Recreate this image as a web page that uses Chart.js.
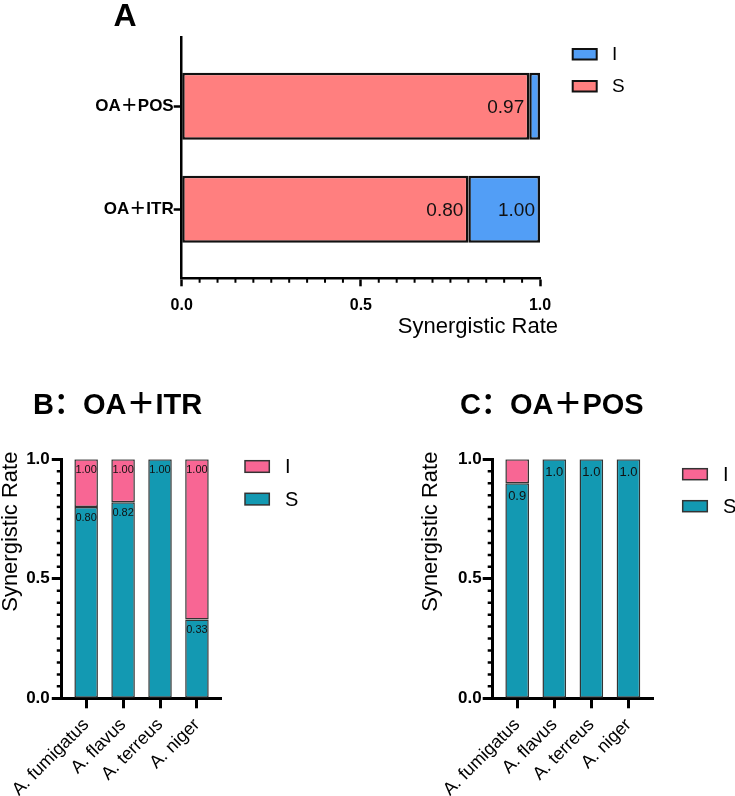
<!DOCTYPE html>
<html><head><meta charset="utf-8">
<script src="https://cdn.jsdelivr.net/npm/chart.js@4.4.1/dist/chart.umd.min.js"></script>
<style>
html,body{margin:0;padding:0;background:#fff;width:735px;height:796px;overflow:hidden;position:relative;}
canvas{position:absolute;}
</style></head><body>
<canvas id="cA" width="735" height="345" style="left:0px;top:0px"></canvas>
<canvas id="cB" width="370" height="416" style="left:0px;top:380px"></canvas>
<canvas id="cC" width="365" height="416" style="left:370px;top:380px"></canvas>
<script>
// ---------- data ----------
const combosA = ["OA＋POS", "OA＋ITR"];
const sRateA = [0.97, 0.80];
const iRateA = [0.03, 0.20];
const sLabelA = ["0.97", "0.80"];
const iLabelA = ["", "1.00"];

const speciesB = ["A. fumigatus", "A. flavus", "A. terreus", "A. niger"];
const sRateB = [0.80, 0.82, 1.00, 0.33];
const iRateB = [0.20, 0.18, 0.00, 0.67];
const sLabelB = ["0.80", "0.82", "1.00", "0.33"];
const iLabelB = ["1.00", "1.00", "", "1.00"];

const speciesC = ["A. fumigatus", "A. flavus", "A. terreus", "A. niger"];
const sRateC = [0.9, 1.0, 1.0, 1.0];
const iRateC = [0.1, 0.0, 0.0, 0.0];
const sLabelC = ["0.9", "1.0", "1.0", "1.0"];
const iLabelC = ["", "", "", ""];

const rateTicks = [0, 0.5, 1.0];
const minorStep = 0.05;
const axisTitle = "Synergistic Rate";
const legendOrder = ["I", "S"];

// ---------- styling ----------
const FAM = "'Liberation Sans', Arial, 'Noto Sans CJK SC', sans-serif";
Chart.defaults.font.family = FAM;
Chart.defaults.color = '#000';
const colA = { S: '#FF7F7F', I: '#529EF6' };
const colBC = { S: '#1399B2', I: '#F86694' };

const decoPlugin = {
  id: 'deco',
  afterDraw(chart, args, o) {
    const ctx = chart.ctx;
    const ca = chart.chartArea;
    ctx.save();
    if (o.minor) {
      const sc = chart.scales[o.minor.axis];
      ctx.strokeStyle = '#000';
      ctx.lineWidth = o.minor.width;
      ctx.beginPath();
      const n = Math.round((sc.max - sc.min) / minorStep);
      for (let k = 1; k < n; k++) {
        const v = sc.min + k * minorStep;
        if (rateTicks.some(t => Math.abs(t - v) < 1e-6)) continue;
        const p = sc.getPixelForValue(v);
        if (o.minor.axis === 'x') { ctx.moveTo(p, ca.bottom); ctx.lineTo(p, ca.bottom + o.minor.len); }
        else { ctx.moveTo(ca.left, p); ctx.lineTo(ca.left - o.minor.len, p); }
      }
      ctx.stroke();
    }
    if (o.values) {
      ctx.fillStyle = '#111';
      ctx.font = o.values.font;
      chart.data.datasets.forEach((ds, di) => {
        const meta = chart.getDatasetMeta(di);
        const lbls = o.values.labels[di];
        meta.data.forEach((bar, i) => {
          const t = lbls[i];
          if (!t) return;
          if (o.values.horizontal) {
            ctx.textAlign = 'right'; ctx.textBaseline = 'middle';
            ctx.fillText(t, bar.x - o.values.gap, bar.y + 1);
          } else {
            ctx.textAlign = 'center'; ctx.textBaseline = 'middle';
            ctx.fillText(t, bar.x, bar.y + o.values.gap);
          }
        });
      });
    }
    if (o.legend) {
      const L = o.legend;
      legendOrder.forEach((name, k) => {
        const ds = chart.data.datasets.find(d => d.label === name);
        const y = L.ys[k];
        ctx.fillStyle = ds.backgroundColor;
        ctx.fillRect(L.x, y, L.w, L.h);
        ctx.strokeStyle = L.border; ctx.lineWidth = L.lw;
        ctx.strokeRect(L.x, y, L.w, L.h);
        ctx.fillStyle = '#000';
        ctx.font = L.font;
        ctx.textAlign = 'left'; ctx.textBaseline = 'middle';
        ctx.fillText(name, L.tx, y + L.h / 2 + 1);
      });
    }
    if (o.title) {
      ctx.fillStyle = '#000';
      ctx.font = o.title.font;
      ctx.textAlign = 'left'; ctx.textBaseline = 'alphabetic';
      ctx.fillText(o.title.text, o.title.x, o.title.y);
    }
    if (o.axisTitle) {
      const a = o.axisTitle;
      ctx.fillStyle = '#000';
      ctx.font = a.font;
      ctx.textBaseline = 'middle';
      if (a.rotate) {
        ctx.translate(a.x, a.y); ctx.rotate(-Math.PI / 2);
        ctx.textAlign = 'center';
        ctx.fillText(axisTitle, 0, 0);
      } else {
        ctx.textAlign = 'right';
        ctx.fillText(axisTitle, a.x, a.y);
      }
    }
    ctx.restore();
  }
};

function forceRange(lo, hi) {
  return s => { s.min = lo; s.max = hi; };
}

// ---------- Chart A ----------
new Chart(document.getElementById('cA'), {
  type: 'bar',
  data: {
    datasets: [
      { label: 'S', stack: 'a', data: sRateA.map((v, i) => ({ x: v, y: i })),
        backgroundColor: colA.S, borderColor: '#111', borderWidth: 2.5, borderSkipped: false },
      { label: 'I', stack: 'a', data: iRateA.map((v, i) => ({ x: v, y: i })),
        backgroundColor: colA.I, borderColor: '#111', borderWidth: 2.5, borderSkipped: false }
    ]
  },
  options: {
    indexAxis: 'y', responsive: false, animation: false, events: [],
    layout: { padding: { left: 0, top: 37.3, right: 195, bottom: 0 } },
    datasets: { bar: { categoryPercentage: 1, barPercentage: 0.65 } },
    scales: {
      x: {
        type: 'linear', stacked: true, min: 0, max: 1,
        afterBuildTicks: s => { s.ticks = rateTicks.map(v => ({ value: v })); },
        afterFit: s => { s.height = 66.7; },
        ticks: { callback: v => v.toFixed(1), font: { size: 16, weight: 'bold' }, color: '#000', padding: 10, maxRotation: 0 },
        grid: { drawOnChartArea: false, drawTicks: true, tickLength: 8, tickWidth: 2.5, tickColor: '#000' },
        border: { display: true, color: '#000', width: 2.5 }
      },
      y: {
        type: 'linear', stacked: true, reverse: true, min: -0.67, max: 1.67,
        offset: false, bounds: 'data', grace: 0, beginAtZero: false,
        afterDataLimits: forceRange(-0.67, 1.67),
        afterBuildTicks: s => { s.ticks = combosA.map((_, i) => ({ value: i })); s.min = -0.67; s.max = 1.67; },
        afterFit: s => { s.width = 181.7; },
        ticks: { callback: v => combosA[v], font: { size: 17, weight: 'bold' }, color: '#000', padding: 0 },
        grid: { offset: false, drawOnChartArea: false, drawTicks: true, tickLength: 8, tickWidth: 2.5, tickColor: '#000' },
        border: { display: true, color: '#000', width: 2.5 }
      }
    },
    plugins: {
      legend: { display: false }, tooltip: { enabled: false },
      deco: {
        minor: { axis: 'x', len: 4.5, width: 2 },
        values: { horizontal: true, gap: 5, font: "19px " + FAM, labels: [sLabelA, iLabelA] },
        legend: { x: 572.7, w: 24, h: 10.5, ys: [49, 81], border: '#111', lw: 2, tx: 612, font: "19px " + FAM },
        title: { text: "A", x: 113.6, y: 25.5, font: "bold 32px " + FAM },
        axisTitle: { x: 558, y: 327, font: "22px " + FAM }
      }
    }
  },
  plugins: [decoPlugin]
});

// ---------- Charts B & C ----------
function speciesChart(id, cats, sVals, iVals, sLbl, iLbl, geo) {
  return new Chart(document.getElementById(id), {
    type: 'bar',
    data: {
      datasets: [
        { label: 'S', stack: 'a', data: sVals.map((v, i) => ({ x: i, y: v })),
          backgroundColor: colBC.S, borderColor: '#333', borderWidth: 1.5, borderSkipped: false },
        { label: 'I', stack: 'a', data: iVals.map((v, i) => ({ x: i, y: v })),
          backgroundColor: colBC.I, borderColor: '#333', borderWidth: 1.5, borderSkipped: false }
      ]
    },
    options: {
      responsive: false, animation: false, events: [],
      layout: { padding: { left: 0, top: 79.3, right: geo.right, bottom: 0 } },
      datasets: { bar: { categoryPercentage: 1, barPercentage: 0.637 } },
      scales: {
        x: {
          type: 'linear', stacked: true, min: -0.66, max: 3.67,
          offset: false, bounds: 'data', grace: 0, beginAtZero: false,
          afterDataLimits: forceRange(-0.66, 3.67),
          afterBuildTicks: s => { s.ticks = cats.map((_, i) => ({ value: i })); s.min = -0.66; s.max = 3.67; },
          afterFit: s => { s.height = 97.7; },
          ticks: { callback: v => cats[v], font: { size: 18 }, color: '#000', padding: 6,
                   minRotation: 45, maxRotation: 45, autoSkip: false },
          grid: { offset: false, drawOnChartArea: false, drawTicks: true, tickLength: 10, tickWidth: 3, tickColor: '#000' },
          border: { display: true, color: '#000', width: 3 }
        },
        y: {
          type: 'linear', stacked: true, min: 0, max: 1,
          afterBuildTicks: s => { s.ticks = rateTicks.map(v => ({ value: v })); },
          afterFit: s => { s.width = geo.left; },
          ticks: { callback: v => v.toFixed(1), font: { size: 17, weight: 'bold' }, color: '#000', padding: geo.tickPad },
          grid: { drawOnChartArea: false, drawTicks: true, tickLength: 10, tickWidth: 3, tickColor: '#000' },
          border: { display: true, color: '#000', width: 3 }
        }
      },
      plugins: {
        legend: { display: false }, tooltip: { enabled: false },
        deco: {
          minor: { axis: 'y', len: 5, width: 2.5 },
          values: { horizontal: false, gap: geo.valGap, font: geo.valFont, labels: [sLbl, iLbl] },
          legend: geo.legend,
          title: geo.title,
          axisTitle: geo.axisTitle
        }
      }
    },
    plugins: [decoPlugin]
  });
}

speciesChart('cB', speciesB, sRateB, iRateB, sLabelB, iLabelB, {
  left: 61.7, right: 370 - 221.7, tickPad: 2, valGap: 11, valFont: "11px " + FAM,
  legend: { x: 245, w: 24.3, h: 11.6, ys: [80.7, 113.3], border: '#333', lw: 1.5, tx: 285, font: "20px " + FAM },
  title: { text: "B：OA＋ITR", x: 33, y: 34, font: "bold 29px " + FAM },
  axisTitle: { rotate: true, x: 11, y: 151.7, font: "22px " + FAM }
});

speciesChart('cC', speciesC, sRateC, iRateC, sLabelC, iLabelC, {
  left: 122.7, right: 365 - 283.3, tickPad: 1, valGap: 13, valFont: "13px " + FAM,
  legend: { x: 312.7, w: 24.6, h: 11, ys: [88.7, 120.7], border: '#333', lw: 1.5, tx: 353, font: "20px " + FAM },
  title: { text: "C：OA＋POS", x: 90, y: 34, font: "bold 29px " + FAM },
  axisTitle: { rotate: true, x: 61, y: 151.7, font: "22px " + FAM }
});
</script>
</body></html>
